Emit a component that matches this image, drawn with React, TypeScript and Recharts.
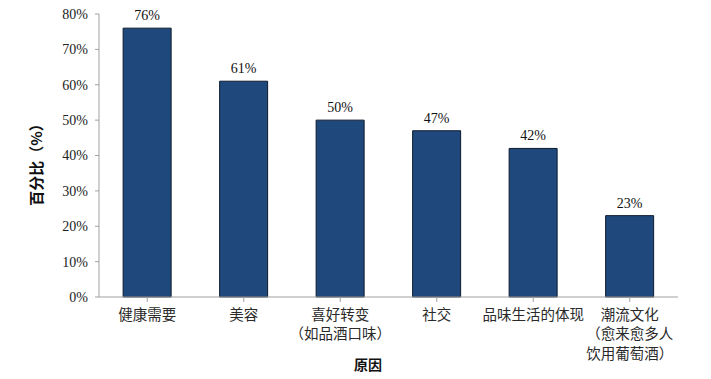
import React from 'react';
import { BarChart, Bar, XAxis, YAxis, LabelList, Label } from 'recharts';

const categories = ['健康需要', '美容', '喜好转变（如品酒口味）', '社交', '品味生活的体现', '潮流文化（愈来愈多人饮用葡萄酒）'];
const tickLines: string[][] = [
  ['健康需要'],
  ['美容'],
  ['喜好转变', '（如品酒口味）'],
  ['社交'],
  ['品味生活的体现'],
  ['潮流文化', '（愈来愈多人', '饮用葡萄酒）'],
];
const values = [76, 61, 50, 47, 42, 23];
const yTicks = [0, 10, 20, 30, 40, 50, 60, 70, 80];

const data = categories.map((c, i) => ({ name: c, value: values[i] }));

const CJK = '"SimSun", "Noto Sans CJK SC", sans-serif';
const SERIF = '"Liberation Serif", "Times New Roman", serif';

const CatTick = (props: any) => {
  const { x, y, payload, index } = props;
  const idx = categories.indexOf(payload.value);
  const lines = tickLines[idx >= 0 ? idx : index] || [payload.value];
  return (
    <g>
      {lines.map((l, i) => (
        <text key={i} x={x} y={y + 15.5 + i * 19.5} textAnchor="middle" fontFamily={CJK} fontSize={14.5} fill="#2a2a2a">
          {l}
        </text>
      ))}
    </g>
  );
};

export default function App() {
  return (
    <div style={{ position: 'absolute', left: 0, top: 0 }}>
      <BarChart width={711} height={379} data={data} margin={{ top: 14, right: 33, bottom: 22, left: 0 }} barCategoryGap="25%">
        <XAxis
          dataKey="name"
          interval={0}
          height={60}
          tick={<CatTick />}
          tickLine={{ stroke: '#a0a0a0' }}
          axisLine={{ stroke: '#a0a0a0' }}
          tickSize={5}
        >
          <Label
            content={() => (
              <text x={368} y={370} textAnchor="middle" fontFamily={CJK} fontSize={14} fontWeight="bold" fill="#111">
                原因
              </text>
            )}
          />
        </XAxis>
        <YAxis
          width={99}
          domain={[0, 80]}
          ticks={yTicks}
          tickFormatter={(v: number) => `${v}%`}
          tick={{ fontFamily: SERIF, fontSize: 14, fill: '#222' }}
          tickSize={4}
          tickMargin={7}
          tickLine={{ stroke: '#a0a0a0' }}
          axisLine={{ stroke: '#a0a0a0' }}
        >
          <Label
            content={() => (
              <text
                x={35}
                y={161}
                transform="rotate(-90 35 161)"
                textAnchor="middle"
                dominantBaseline="central"
                fontFamily={CJK}
                fontSize={15}
                fontWeight="bold"
                fill="#111"
              >
                百分比（%）
              </text>
            )}
          />
        </YAxis>
        <Bar dataKey="value" fill="#1F497D" stroke="#0d1a2e" strokeWidth={1} isAnimationActive={false}>
          <LabelList
            dataKey="value"
            position="top"
            offset={8}
            formatter={(v: any) => `${v}%`}
            style={{ fontFamily: SERIF, fontSize: 14, fill: '#111' }}
          />
        </Bar>
      </BarChart>
    </div>
  );
}
